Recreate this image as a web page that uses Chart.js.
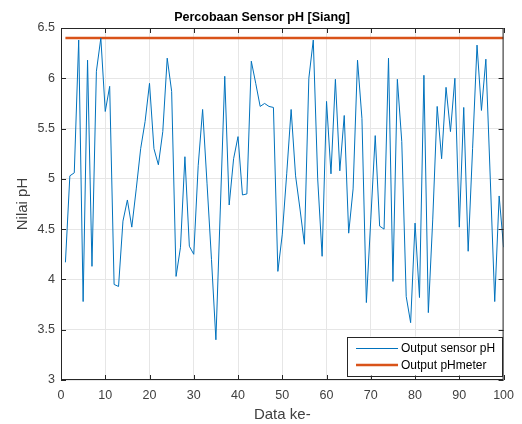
<!DOCTYPE html>
<html>
<head>
<meta charset="utf-8">
<script src="https://cdn.jsdelivr.net/npm/chart.js@4.4.1/dist/chart.umd.min.js"></script>
<style>
  body { margin: 0; background: #fff; }
</style>
</head>
<body>
<canvas id="myChart" width="522" height="424"></canvas>
<script>
// pembacaan sensor pH, data ke-1 .. ke-100
const sensorPH = [
  4.17, 5.03, 5.06, 6.38, 3.78, 6.18, 4.13, 6.07, 6.40, 5.67,
  5.92, 3.95, 3.93, 4.58, 4.79, 4.52, 4.90, 5.30, 5.57, 5.95,
  5.30, 5.14, 5.47, 6.20, 5.87, 4.03, 4.32, 5.22, 4.33, 4.25,
  5.13, 5.69, 4.95, 4.20, 3.40, 4.70, 6.02, 4.74, 5.20, 5.42,
  4.84, 4.85, 6.17, 5.95, 5.72, 5.75, 5.72, 5.71, 4.08, 4.45,
  5.05, 5.69, 5.03, 4.70, 4.35, 6.00, 6.38, 5.00, 4.23, 5.77,
  5.05, 5.99, 5.08, 5.63, 4.46, 4.90, 6.18, 5.60, 3.77, 4.60,
  5.43, 4.53, 4.50, 6.20, 3.98, 5.99, 5.37, 3.83, 3.57, 4.56,
  3.82, 6.03, 3.67, 4.60, 5.72, 5.20, 5.91, 5.47, 6.00, 4.52,
  5.71, 4.28, 5.30, 6.33, 5.68, 6.19, 5.00, 3.78, 4.83, 4.32
];
// pHmeter konstan
const pHmeterX = [1, 100];
const pHmeterY = [6.4, 6.4];

const xTicks = [0, 10, 20, 30, 40, 50, 60, 70, 80, 90, 100];
const yTicks = [3, 3.5, 4, 4.5, 5, 5.5, 6, 6.5];

const fontFamily = '"Liberation Sans", Arial, Helvetica, sans-serif';
const axisColor = "#262626";
const labelColor = "#404040";

const matlabFrame = {
  id: "matlabFrame",
  afterDraw(chart) {
    const { ctx, chartArea: a } = chart;
    const xs = chart.scales.x;
    const ys = chart.scales.y;
    ctx.save();

    // title
    ctx.fillStyle = "#000";
    ctx.font = "bold 12.5px " + fontFamily;
    ctx.textAlign = "center";
    ctx.textBaseline = "middle";
    ctx.fillText("Percobaan Sensor pH [Siang]", chart.width / 2 + 1, 18);

    // box + inward ticks
    ctx.strokeStyle = axisColor;
    ctx.lineWidth = 1;
    ctx.strokeRect(a.left + 0.5, a.top + 0.5, a.width - 1, a.height - 1);
    ctx.beginPath();
    xTicks.forEach((v) => {
      const px = Math.round(xs.getPixelForValue(v)) + 0.5;
      ctx.moveTo(px, a.bottom);
      ctx.lineTo(px, a.bottom - 5);
      ctx.moveTo(px, a.top);
      ctx.lineTo(px, a.top + 5);
    });
    yTicks.forEach((v) => {
      const py = Math.round(ys.getPixelForValue(v)) + 0.5;
      ctx.moveTo(a.left, py);
      ctx.lineTo(a.left + 5, py);
      ctx.moveTo(a.right, py);
      ctx.lineTo(a.right - 5, py);
    });
    ctx.stroke();

    // legend
    ctx.font = "12px " + fontFamily;
    const sets = chart.data.datasets;
    const textW = Math.max(...sets.map((d) => ctx.measureText(d.label).width));
    const w = 9 + 42 + 3 + textW + 7;
    const h = 39;
    const x0 = a.right - 1.5 - w;
    const y0 = a.bottom - 4.5 - h;
    ctx.fillStyle = "#fff";
    ctx.fillRect(x0, y0, w, h);
    ctx.strokeStyle = axisColor;
    ctx.strokeRect(Math.round(x0) + 0.5, Math.round(y0) + 0.5, Math.round(w), Math.round(h));
    sets.forEach((d, i) => {
      const ry = y0 + 12 + i * 16.5;
      ctx.strokeStyle = d.borderColor;
      ctx.lineWidth = d.borderWidth;
      ctx.beginPath();
      ctx.moveTo(x0 + 9, ry);
      ctx.lineTo(x0 + 51, ry);
      ctx.stroke();
      ctx.fillStyle = "#000";
      ctx.textAlign = "left";
      ctx.fillText(d.label, x0 + 54, ry + 0.5);
    });
    ctx.restore();
  },
};

const ctx = document.getElementById("myChart").getContext("2d");

const myChart = new Chart(ctx, {
  type: "line",
  data: {
    datasets: [
      {
        label: "Output sensor pH",
        data: sensorPH.map((v, i) => ({ x: i + 1, y: v })),
        borderColor: "#0072BD",
        borderWidth: 1,
        pointRadius: 0,
        tension: 0,
      },
      {
        label: "Output pHmeter",
        data: pHmeterX.map((v, i) => ({ x: v, y: pHmeterY[i] })),
        borderColor: "#D95319",
        borderWidth: 2.5,
        pointRadius: 0,
      },
    ],
  },
  options: {
    responsive: false,
    animation: false,
    devicePixelRatio: 1,
    layout: { padding: { top: 28, right: 18, left: 0, bottom: 0 } },
    plugins: {
      legend: { display: false },
      title: { display: false },
      tooltip: { enabled: false },
    },
    scales: {
      x: {
        type: "linear",
        min: 0,
        max: 100,
        afterBuildTicks: (s) => {
          s.ticks = xTicks.map((v) => ({ value: v }));
        },
        afterFit: (s) => {
          s.height = 44;
        },
        grid: { color: "#e6e6e6", drawTicks: false },
        border: { display: false },
        ticks: {
          padding: 8,
          color: labelColor,
          font: { family: fontFamily, size: 12.5 },
          maxRotation: 0,
        },
        title: {
          display: true,
          text: "Data ke-",
          color: labelColor,
          font: { family: fontFamily, size: 15 },
          padding: { top: 0, bottom: 0 },
        },
      },
      y: {
        min: 3,
        max: 6.5,
        afterBuildTicks: (s) => {
          s.ticks = yTicks.map((v) => ({ value: v }));
        },
        afterFit: (s) => {
          s.width = 61;
        },
        grid: { color: "#e6e6e6", drawTicks: false },
        border: { display: false },
        ticks: {
          padding: 6,
          color: labelColor,
          font: { family: fontFamily, size: 12.5 },
          callback: (v) => String(v),
        },
        title: {
          display: true,
          text: "Nilai pH",
          color: labelColor,
          font: { family: fontFamily, size: 15 },
          padding: { top: 14, bottom: 0 },
        },
      },
    },
  },
  plugins: [matlabFrame],
});
</script>
</body>
</html>
